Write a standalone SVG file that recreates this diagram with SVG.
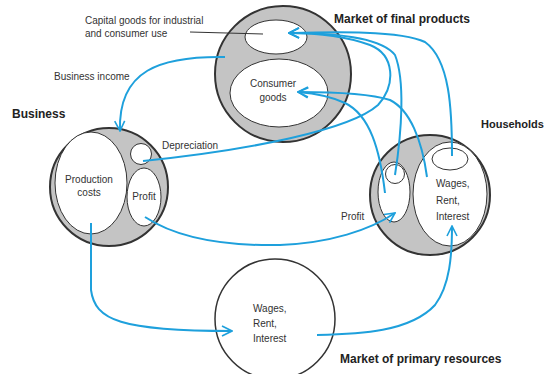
<svg xmlns="http://www.w3.org/2000/svg" width="549" height="374" viewBox="0 0 549 374">
<defs>
<style>
.big{fill:#c4c4c4;stroke:#333;stroke-width:2}
.in{fill:#fff;stroke:#333;stroke-width:1}
.t{font-family:"Liberation Sans",Arial,sans-serif;font-size:10px;fill:#333}
.b{font-family:"Liberation Sans",Arial,sans-serif;font-size:12px;font-weight:bold;fill:#222}
.c{fill:none;stroke:#1ea0dc;stroke-width:2}
</style>
<marker id="ah" viewBox="0 0 12 12" refX="11" refY="6" markerWidth="12" markerHeight="12" markerUnits="userSpaceOnUse" orient="auto">
<path d="M1,1 L11,6 L1,11" fill="none" stroke="#1ea0dc" stroke-width="1.6"/>
</marker>
</defs>
<rect width="549" height="374" fill="#fff"/>

<g id="market-final">
<circle class="big" cx="283" cy="74" r="68"/>
<ellipse class="in" cx="276" cy="37" rx="31" ry="17"/>
<ellipse class="in" cx="279" cy="93" rx="49" ry="34"/>
<text class="t" x="273" y="87" text-anchor="middle">Consumer</text>
<text class="t" x="273" y="101" text-anchor="middle">goods</text>
<text class="b" x="334" y="23">Market of  final products</text>
</g>

<g id="capital-label">
<text class="t" x="85" y="24">Capital goods for industrial</text>
<text class="t" x="85" y="37">and consumer use</text>
<line x1="190" y1="32" x2="263" y2="34" stroke="#333" stroke-width="1"/>
</g>

<g id="business">
<circle class="big" cx="109" cy="187" r="59"/>
<ellipse class="in" cx="91" cy="183" rx="36" ry="51"/>
<circle class="in" cx="141" cy="154" r="10.5"/>
<ellipse class="in" cx="144" cy="197" rx="17" ry="29"/>
<text class="t" x="89" y="183" text-anchor="middle">Production</text>
<text class="t" x="89" y="196" text-anchor="middle">costs</text>
<text class="t" x="144" y="200" text-anchor="middle">Profit</text>
<text class="t" x="162" y="149">Depreciation</text>
<text class="b" x="12" y="118">Business</text>
</g>

<g id="households">
<circle class="big" cx="430" cy="195" r="60"/>
<ellipse class="in" cx="450" cy="194" rx="37" ry="52"/>
<ellipse class="in" cx="450" cy="159" rx="18" ry="11"/>
<ellipse class="in" cx="394" cy="192" rx="16" ry="30"/>
<circle class="in" cx="395" cy="174" r="9.5"/>
<text class="t" x="436" y="187">Wages,</text>
<text class="t" x="436" y="204">Rent,</text>
<text class="t" x="436" y="220">Interest</text>
<text class="t" x="341" y="220">Profit</text>
<text class="b" x="481" y="128" style="font-size:11px">Households</text>
</g>

<g id="market-primary">
<circle cx="275" cy="319" r="60" fill="#fff" stroke="#333" stroke-width="1.5"/>
<text class="t" x="253" y="312">Wages,</text>
<text class="t" x="253" y="327">Rent,</text>
<text class="t" x="253" y="342">Interest</text>
<text class="b" x="340" y="363">Market of primary resources</text>
</g>

<text class="t" x="54" y="80">Business income</text>

<g id="connectors">
<path class="c" d="M225,57 C160,56 118,70 120,131" marker-end="url(#ah)"/>
<path class="c" d="M143,161 C250,150 350,130 378,105 C396,85 395,55 370,45 C345,36 315,33 289,33" marker-end="url(#ah)"/>
<path class="c" d="M395,175 C402,130 405,80 395,55 C380,36 330,33 289,33" marker-end="url(#ah)"/>
<path class="c" d="M452,156 C452,110 450,60 425,42 C400,30 330,32 289,33" marker-end="url(#ah)"/>
<path class="c" d="M385,193 C380,150 370,115 345,103 C330,96 310,93 298,92" marker-end="url(#ah)"/>
<path class="c" d="M427,177 C422,140 410,110 390,100 C365,92 320,92 298,92" marker-end="url(#ah)"/>
<path class="c" d="M145,217 C180,240 230,246 280,245 C330,243 370,230 395,213" marker-end="url(#ah)"/>
<path class="c" d="M91,223 L91,290 C95,320 120,331 232,331" marker-end="url(#ah)"/>
<path class="c" d="M317,335 C360,334 410,332 435,305 C450,285 452,255 452,226" marker-end="url(#ah)"/>
</g>
</svg>
